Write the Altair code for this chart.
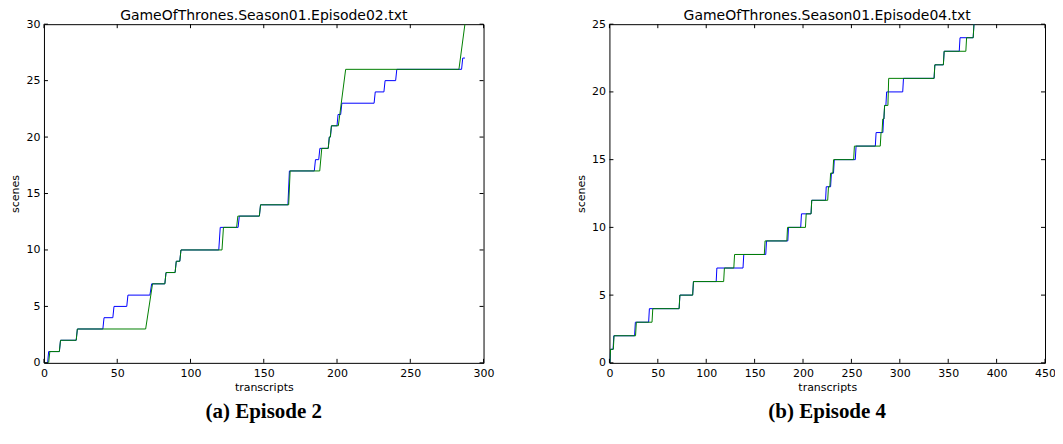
import altair as alt
import pandas as pd

# ---------------- data ----------------
ep2_title = "GameOfThrones.Season01.Episode02.txt"
ep4_title = "GameOfThrones.Season01.Episode04.txt"
ep2_caption = "(a) Episode 2"
ep4_caption = "(b) Episode 4"

ep2_blue_x = [0, 2.5, 3.2, 10.5, 11.3, 22, 22.8, 40.2, 41, 47, 47.8, 56.5, 57.3, 72.3, 73.5,
              82.5, 83.3, 89.5, 90.3, 92.7, 93.5, 119.3, 120.3, 132.5, 133.3, 147, 147.8,
              166.5, 167.5, 184.5, 185.3, 187.5, 188.3, 194, 194.7, 195.5, 196.2, 200, 200.7,
              202.5, 203.3, 225.3, 226.1, 232, 232.8, 240, 240.8, 285, 285.8, 287.3]
ep2_blue_y = [0, 0, 1, 1, 2, 2, 3, 3, 4, 4, 5, 5, 6, 6, 7,
              7, 8, 8, 9, 9, 10, 10, 12, 12, 13, 13, 14,
              14, 17, 17, 18, 18, 19, 19, 20, 20, 21, 21, 22,
              22, 23, 23, 24, 24, 25, 25, 26, 26, 27, 27]

ep2_green_x = [0, 3.2, 4, 10.5, 11.3, 22, 22.8, 69.4, 74.1, 82.5, 83.3, 89.5, 90.3, 92.7, 93.5,
               121.5, 122.5, 131.5, 132.3, 147, 147.8, 167, 168, 188.2, 189.6, 194, 194.8,
               195.4, 196.2, 200.9, 205.9, 283.2, 287.3]
ep2_green_y = [0, 0, 1, 1, 2, 2, 3, 3, 7, 7, 8, 8, 9, 9, 10,
               10, 12, 12, 13, 13, 14, 14, 17, 17, 19, 19, 20,
               20, 21, 21, 26, 26, 30]

ep4_blue_x = [0, 0.5, 1.2, 3.8, 4.5, 26, 26.8, 40.5, 41.3, 72, 72.8, 86, 86.8, 110.3, 111,
              138, 138.8, 161.5, 162.3, 184.3, 185, 197.6, 198.4, 208.3, 209, 223.3, 224,
              228.5, 229.3, 231.5, 232.3, 254, 254.8, 274.7, 275.5, 282.5, 283.2, 283.6,
              284.3, 285.6, 286.4, 303, 303.8, 335.4, 336.2, 345, 345.8, 361.4, 362.2, 375.8,
              376.6, 377.5]
ep4_blue_y = [0, 0, 1, 1, 2, 2, 3, 3, 4, 4, 5, 5, 6, 6, 7,
              7, 8, 8, 9, 9, 10, 10, 11, 11, 12, 12, 13,
              13, 14, 14, 15, 15, 16, 16, 17, 17, 18, 18,
              19, 19, 20, 20, 21, 21, 22, 22, 23, 23, 24, 24,
              25, 26]

ep4_green_x = [0, 0.5, 1.2, 4, 4.8, 27, 27.8, 44, 44.8, 72, 72.8, 86, 86.8, 118, 118.8,
               128.5, 129.3, 160, 160.8, 183.3, 184, 202.5, 203.3, 208.3, 209, 225.5, 226.3,
               227.7, 228.5, 230.8, 231.6, 252.3, 253.1, 279.8, 280.6, 281.6, 282.4, 283.5,
               284.3, 287.7, 288.5, 335.4, 336.2, 345, 345.8, 368.2, 369, 375.8, 376.6, 377.5]
ep4_green_y = [0, 0, 1, 1, 2, 2, 3, 3, 4, 4, 5, 5, 6, 6, 7,
               7, 8, 8, 9, 9, 10, 10, 11, 11, 12, 12, 13,
               13, 14, 14, 15, 15, 16, 16, 17, 17, 18, 18,
               19, 19, 21, 21, 22, 22, 23, 23, 24, 24, 25, 26]

ep2_xticks = [0, 50, 100, 150, 200, 250, 300]
ep2_yticks = [0, 5, 10, 15, 20, 25, 30]
ep4_xticks = [0, 50, 100, 150, 200, 250, 300, 350, 400, 450]
ep4_yticks = [0, 5, 10, 15, 20, 25]

BLUE = "#0000ff"
GREEN = "#008000"
FONT = "DejaVu Sans"


def panel(bx, by, gx, gy, xt, yt, title, caption, W, H):
    xs = alt.Scale(domain=[xt[0], xt[-1]], nice=False, zero=False)
    ys = alt.Scale(domain=[yt[0], yt[-1]], nice=False, zero=False)
    xaxis = alt.Axis(values=xt, title="transcripts", ticks=False, domain=False, grid=False,
                     labelPadding=5, labelFontSize=11, titleFontSize=11,
                     titleFontWeight="normal", titlePadding=3, labelColor="black",
                     titleColor="black", labelFlush=False, format="d",
                     labelFont=FONT, titleFont=FONT)
    yaxis = alt.Axis(values=yt, title="scenes", ticks=False, domain=False, grid=False,
                     labelPadding=4, labelFontSize=11, titleFontSize=11,
                     titleFontWeight="normal", titlePadding=5, labelColor="black",
                     titleColor="black", labelFlush=False, format="d",
                     labelFont=FONT, titleFont=FONT)
    X = alt.X("x:Q", scale=xs, axis=xaxis, title="transcripts")
    Y = alt.Y("y:Q", scale=ys, axis=yaxis, title="scenes")
    blue = alt.Chart(pd.DataFrame({"x": bx, "y": by})).mark_line(
        color=BLUE, strokeWidth=1, clip=True).encode(x=X, y=Y)
    green = alt.Chart(pd.DataFrame({"x": gx, "y": gy})).mark_line(
        color=GREEN, strokeWidth=1, clip=True).encode(x=X, y=Y)
    xtd = pd.DataFrame({"x": xt})
    ytd = pd.DataFrame({"y": yt})
    tb = alt.Chart(xtd).mark_rule(color="black", strokeWidth=1).encode(
        x=X, y=alt.value(H), y2=alt.value(H - 4))
    tt = alt.Chart(xtd).mark_rule(color="black", strokeWidth=1).encode(
        x=X, y=alt.value(0), y2=alt.value(4))
    tl = alt.Chart(ytd).mark_rule(color="black", strokeWidth=1).encode(
        y=Y, x=alt.value(0), x2=alt.value(4))
    tr = alt.Chart(ytd).mark_rule(color="black", strokeWidth=1).encode(
        y=Y, x=alt.value(W), x2=alt.value(W - 4))
    cap = alt.Chart(pd.DataFrame({"t": [caption]})).mark_text(
        font="Liberation Serif", fontSize=21, fontWeight="bold", color="black",
        baseline="middle", align="center").encode(
        text="t:N", x=alt.value(W / 2), y=alt.value(H + 49))
    return alt.layer(blue, green, tb, tt, tl, tr, cap).properties(
        width=W, height=H,
        view=alt.ViewBackground(stroke="black", strokeWidth=1),
        title=alt.Title(title, fontSize=14, fontWeight="normal", font=FONT,
                        color="black", offset=-5))


left = panel(ep2_blue_x, ep2_blue_y, ep2_green_x, ep2_green_y, ep2_xticks, ep2_yticks,
             ep2_title, ep2_caption, 440, 339)
right = panel(ep4_blue_x, ep4_blue_y, ep4_green_x, ep4_green_y, ep4_xticks, ep4_yticks,
              ep4_title, ep4_caption, 436, 339)

chart = alt.hconcat(left, right, spacing=126, bounds="flush").properties(
    padding={"left": 1, "top": 0, "right": -1, "bottom": 0}
).configure_view(stroke="black", strokeWidth=1).configure(background="white")

chart.save("out.html", embed_options={"renderer": "svg", "actions": False})
